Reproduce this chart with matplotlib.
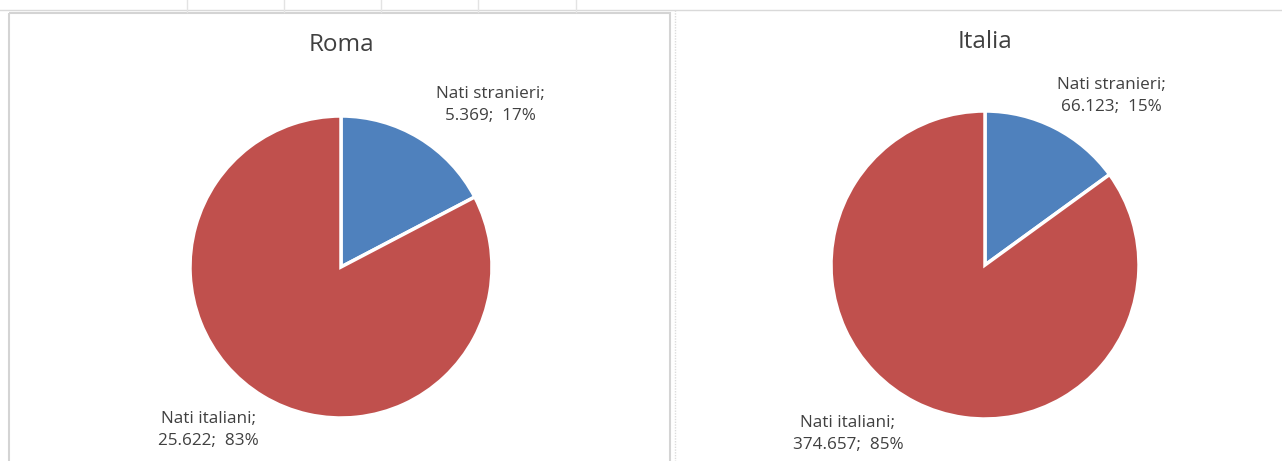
import matplotlib.pyplot as plt
from matplotlib.patches import Rectangle
from matplotlib.lines import Line2D

# Data
titles = ["Roma", "Italia"]
categories = ["Nati stranieri", "Nati italiani"]
roma_values = [5369, 25622]
italia_values = [66123, 374657]

colors = ["#4F81BD", "#C0504D"]
text_color = "#404040"
plt.rcParams['font.family'] = ['Open Sans', 'DejaVu Sans']

W, H = 1282, 461
fig = plt.figure(figsize=(W / 100, H / 100), dpi=100)
fig.patch.set_facecolor("white")

# spreadsheet background: gridlines and chart frame
bg = fig.add_axes([0, 0, 1, 1])
bg.set_xlim(0, W)
bg.set_ylim(H, 0)
bg.axis("off")
bg.add_line(Line2D([0, W], [10, 10], color="#d9d9d9", lw=1))
for x in [187, 284, 381, 478, 576]:
    bg.add_line(Line2D([x, x], [0, 12], color="#e3e3e3", lw=1))
bg.add_patch(Rectangle((9, 13), 661, 460, fill=False, ec="#d4d4d4", lw=1.5))
bg.add_line(Line2D([675, 675], [10, H], color="#dcdcdc", lw=1, ls=(0, (1, 1))))


def fmt(v):
    return f"{v:,}".replace(",", ".")


# (cx, cy, r) in pixels and label positions in pie units
panels = [
    (titles[0], roma_values, 341, 267, 151, [(0.99, 1.07), (-0.88, -1.08)], 45),
    (titles[1], italia_values, 985, 265, 154, [(0.82, 1.10), (-0.89, -1.10)], 42),
]

for title, vals, cx, cy, r, label_pos, ty in panels:
    ax = fig.add_axes([(cx - r) / W, (H - cy - r) / H, 2 * r / W, 2 * r / H])
    ax.pie(vals, colors=colors, startangle=90, counterclock=False, radius=1,
           wedgeprops=dict(edgecolor="white", linewidth=2.5))
    ax.set_xlim(-1, 1)
    ax.set_ylim(-1, 1)
    ax.set_aspect("equal")
    ax.axis("off")
    total = sum(vals)
    for cat, v, (lx, ly) in zip(categories, vals, label_pos):
        pct = round(100 * v / total)
        ax.text(lx, ly, f"{cat};\n{fmt(v)};  {pct}%", ha="center", va="center",
                fontsize=12.3, color=text_color, linespacing=1.5, clip_on=False)
    fig.text(cx / W, 1 - ty / H, title, ha="center", va="center",
             fontsize=17.5, color=text_color)

fig.savefig("out.png", dpi=100, facecolor="white")
